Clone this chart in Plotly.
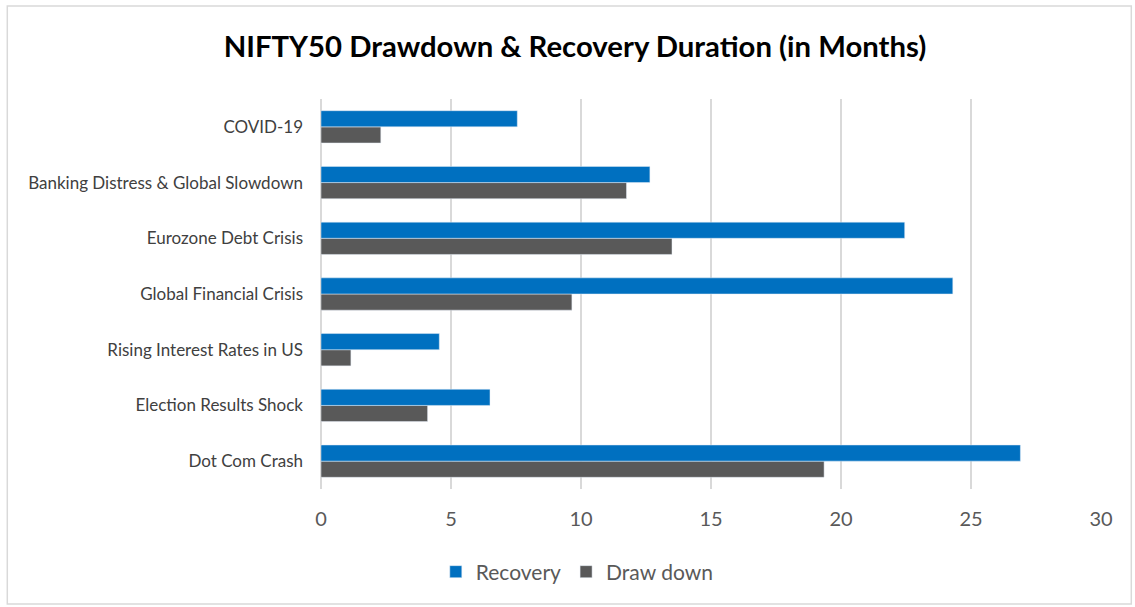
import plotly.graph_objects as go

categories = ["Dot Com Crash", "Election Results Shock", "Rising Interest Rates in US",
              "Global Financial Crisis", "Eurozone Debt Crisis",
              "Banking Distress & Global Slowdown", "COVID-19"]
recovery = [26.9, 6.5, 4.55, 24.3, 22.45, 12.65, 7.55]
draw_down = [19.35, 4.1, 1.15, 9.65, 13.5, 11.75, 2.3]
x_ticks = [0, 5, 10, 15, 20, 25, 30]

W, H = 1135, 607
L, R, T, B = 320.7, 1100.7, 99, 489

fig = go.Figure()
fig.add_trace(go.Bar(y=categories, x=draw_down, orientation="h", name="Draw down",
                     marker=dict(color="#595959"), legendrank=2))
fig.add_trace(go.Bar(y=categories, x=recovery, orientation="h", name="Recovery",
                     marker=dict(color="#0070C0"), legendrank=1))

def px(x):
    return (x - L) / (R - L)
def py(y):
    return (B - y) / (B - T)

fig.update_layout(
    width=W, height=H,
    margin=dict(l=L, r=W - R, t=T, b=H - B, autoexpand=False),
    paper_bgcolor="white", plot_bgcolor="white",
    barmode="group", bargap=0.42, bargroupgap=0,
    font=dict(family="Lato, Open Sans, sans-serif", color="#595959"),
    title=dict(text="<b>NIFTY50 Drawdown & Recovery Duration (in Months)</b>",
               x=575 / W, xref="container", xanchor="center", y=1 - 47 / H,
               yref="container", yanchor="middle",
               font=dict(size=29.3, color="black", family="Lato, Open Sans, sans-serif")),
    xaxis=dict(range=[0, 30], tickvals=x_ticks, showgrid=True, gridcolor="#d9d9d9",
               gridwidth=1.5, zeroline=True, zerolinecolor="#d9d9d9", zerolinewidth=1.5,
               showline=False, ticks="", ticklabelstandoff=16,
               tickfont=dict(size=20, color="#595959")),
    yaxis=dict(showgrid=False, zeroline=False, showline=False, ticks="",
               ticklabelstandoff=17,
               tickfont=dict(size=17, color="#404040")),
    legend=dict(orientation="h", x=px(577), xanchor="center",
                y=py(572), yanchor="middle", font=dict(size=21, color="#595959"),
                itemwidth=30, traceorder="normal"),
    shapes=[dict(type="rect", xref="paper", yref="paper",
                 x0=px(7), x1=px(1131), y0=py(604), y1=py(6),
                 line=dict(color="#d9d9d9", width=1.5), fillcolor="rgba(0,0,0,0)",
                 layer="below")],
)
fig.write_html("out.html", config={"displayModeBar": False},
               post_script="document.body.style.margin='0';")
